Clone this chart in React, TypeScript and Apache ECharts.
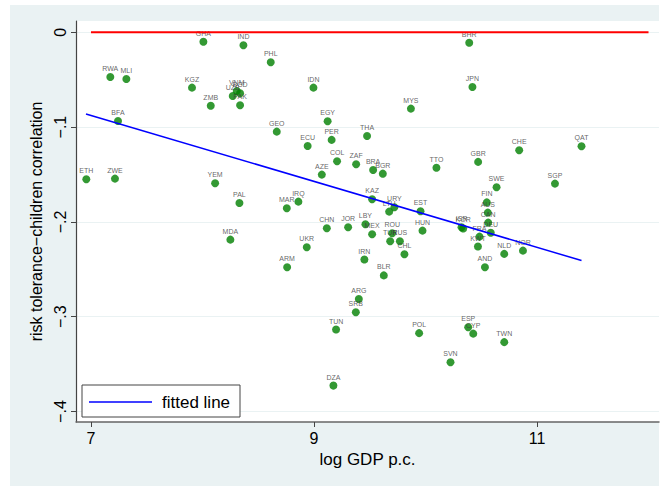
import React, { useEffect, useRef } from "react";
import * as echarts from "echarts";

const countries = [
  "GHA", "IND", "PHL", "RWA", "MLI", "KGZ", "IDN", "VNM", "UZB", "BGD",
  "PAK", "ZMB", "BFA", "EGY", "GEO", "PER", "ECU", "COL", "ZAF", "BHR",
  "JPN", "MYS", "THA", "CHE", "QAT", "GBR", "TTO", "AZE", "BRA", "BGR",
  "ETH", "ZWE", "YEM", "PAL", "IRQ", "MAR", "CHN", "JOR", "MDA", "UKR",
  "ARM", "SWE", "SGP", "KAZ", "URY", "LTU", "EST", "FIN", "AUS", "CAN",
  "DEU", "ISR", "KOR", "FRA", "KWT", "NLD", "NOR", "AND", "LBY", "MEX",
  "ROU", "TUR", "RUS", "CHL", "HUN", "IRN", "BLR", "ARG", "SRB", "TUN",
  "POL", "ESP", "CYP", "TWN", "SVN", "DZA",
];

const logGdp = [
  8.008, 8.367, 8.612, 7.173, 7.317, 7.906, 8.995, 8.307, 8.271, 8.337,
  8.337, 8.074, 7.242, 9.122, 8.666, 9.158, 8.943, 9.207, 9.378, 10.392,
  10.421, 9.869, 9.476, 10.84, 11.399, 10.472, 10.098, 9.07, 9.53, 9.617,
  6.958, 7.215, 8.113, 8.331, 8.86, 8.756, 9.115, 9.306, 8.25, 8.935,
  8.759, 10.637, 11.161, 9.521, 9.721, 9.674, 9.955, 10.55, 10.559, 10.562,
  10.585, 10.323, 10.338, 10.484, 10.47, 10.706, 10.874, 10.533, 9.461, 9.521,
  9.701, 9.683, 9.77, 9.811, 9.973, 9.452, 9.626, 9.402, 9.375, 9.198,
  9.943, 10.383, 10.428, 10.706, 10.224, 9.174,
];

const riskCorr = [
  -0.0099, -0.0137, -0.0316, -0.0471, -0.0492, -0.0584, -0.0584, -0.0619, -0.0672, -0.0643,
  -0.077, -0.0774, -0.0935, -0.0938, -0.1048, -0.1135, -0.1199, -0.136, -0.1391, -0.011,
  -0.0577, -0.0805, -0.1093, -0.1244, -0.1202, -0.1367, -0.1428, -0.1501, -0.1452, -0.1491,
  -0.155, -0.1543, -0.1592, -0.18, -0.1786, -0.1856, -0.2066, -0.2056, -0.2187, -0.2267,
  -0.2478, -0.1634, -0.1596, -0.1761, -0.1845, -0.1891, -0.1887, -0.1794, -0.1902, -0.2007,
  -0.2114, -0.2056, -0.2069, -0.2155, -0.226, -0.2337, -0.2303, -0.2478, -0.2024, -0.213,
  -0.2119, -0.2203, -0.2203, -0.2341, -0.2092, -0.2397, -0.2564, -0.2812, -0.2952, -0.3135,
  -0.3173, -0.311, -0.3178, -0.3268, -0.3479, -0.3726,
];

const fitX = [6.955, 11.399];
const fitY = [-0.0861, -0.2407];
const zeroLineX = [7, 12];
const zeroLineY = [0, 0];
const xTicks = [7, 9, 11];
const yTicks = [0, -0.1, -0.2, -0.3, -0.4];

const FONT = "'Liberation Sans', Arial, Helvetica, sans-serif";

function fmtY(v: number): string {
  if (v === 0) return "0";
  const s = Math.abs(v).toFixed(1).replace(/^0/, "");
  return (v < 0 ? "\u2212" : "") + s;
}

export default function App() {
  const ref = useRef<HTMLDivElement>(null);
  useEffect(() => {
    const chart = echarts.init(ref.current!, null, { renderer: "svg" });
    const points = countries.map((c, i) => ({ name: c, value: [logGdp[i], riskCorr[i]] }));
    chart.setOption({
      animation: false,
      backgroundColor: "#ffffff",
      grid: {
        left: 76,
        top: 21,
        right: 5,
        bottom: 64,
        show: true,
        backgroundColor: "#ffffff",
        borderWidth: 0,
        containLabel: false,
      },
      xAxis: {
        type: "value",
        min: 6.8655,
        max: 12.094,
        name: "log GDP p.c.",
        nameLocation: "middle",
        nameGap: 26,
        nameTextStyle: { fontFamily: FONT, fontSize: 17, color: "#000" },
        axisLine: { show: true, onZero: false, lineStyle: { color: "#666", width: 1.5 } },
        axisTick: { show: true, customValues: xTicks, length: 5, lineStyle: { color: "#444" } },
        axisLabel: {
          customValues: xTicks,
          fontFamily: FONT,
          fontSize: 16,
          color: "#000",
          margin: 8,
        },
        splitLine: { show: false },
      },
      yAxis: {
        type: "value",
        min: -0.411,
        max: 0.0119,
        name: "risk tolerance\u2212children correlation",
        nameLocation: "middle",
        nameGap: 30,
        nameRotate: 90,
        nameTextStyle: { fontFamily: FONT, fontSize: 16, color: "#000" },
        axisLine: { show: true, onZero: false, lineStyle: { color: "#444", width: 1.2 } },
        axisTick: { show: true, customValues: yTicks, length: 5, lineStyle: { color: "#444" } },
        axisLabel: {
          customValues: yTicks,
          rotate: 90,
          fontFamily: FONT,
          fontSize: 16,
          color: "#000",
          margin: 8,
          formatter: (v: number) => fmtY(v),
        },
        splitLine: { show: true, lineStyle: { color: "#EAF2F3", width: 1 } },
      },
      graphic: [
        {
          type: "rect",
          silent: true,
          z: -100,
          shape: { x: 10, y: 5, width: 649, height: 481 },
          style: { fill: "#EAF2F3" },
        },
        {
          type: "rect",
          silent: true,
          z: 100,
          shape: { x: 82, y: 385, width: 158, height: 32 },
          style: { fill: "#ffffff", stroke: "#444", lineWidth: 1 },
        },
        {
          type: "line",
          silent: true,
          z: 101,
          shape: { x1: 89, y1: 402, x2: 152, y2: 402 },
          style: { stroke: "#0000ff", lineWidth: 1.5 },
        },
        {
          type: "text",
          silent: true,
          z: 101,
          x: 162,
          y: 402,
          style: {
            text: "fitted line",
            fontFamily: FONT,
            fontSize: 17,
            fill: "#000",
            verticalAlign: "middle",
            align: "left",
          },
        },
      ],
      series: [
        {
          type: "scatter",
          data: points,
          symbol: "circle",
          symbolSize: 8,
          itemStyle: { color: "#008000" },
          label: {
            show: true,
            position: "top",
            distance: 1,
            formatter: (p: any) => p.name,
            fontFamily: FONT,
            fontSize: 7,
            color: "#3c3c3c",
          },
          z: 2,
        },
        {
          type: "line",
          data: fitX.map((x, i) => [x, fitY[i]]),
          symbol: "none",
          lineStyle: { color: "#0000ff", width: 1.5 },
          z: 3,
        },
        {
          type: "line",
          data: zeroLineX.map((x, i) => [x, zeroLineY[i]]),
          symbol: "none",
          lineStyle: { color: "#ff0000", width: 2 },
          z: 3,
        },
      ],
    });
    return () => chart.dispose();
  }, []);
  return (
    <div
      ref={ref}
      style={{ position: "fixed", left: 0, top: 0, width: 664, height: 486 }}
    />
  );
}
